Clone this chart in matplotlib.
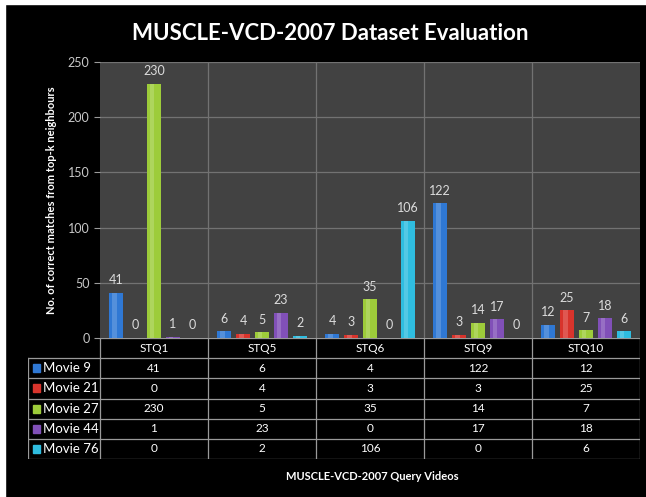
import matplotlib.pyplot as plt
from matplotlib.patches import Rectangle

queries = ['STQ1', 'STQ5', 'STQ6', 'STQ9', 'STQ10']
movies = ['Movie 9', 'Movie 21', 'Movie 27', 'Movie 44', 'Movie 76']
movie9 = [41, 6, 4, 122, 12]
movie21 = [0, 4, 3, 3, 25]
movie27 = [230, 5, 35, 14, 7]
movie44 = [1, 23, 0, 17, 18]
movie76 = [0, 2, 106, 0, 6]
series = [movie9, movie21, movie27, movie44, movie76]
colors = ['#2f78d4', '#d8342c', '#9dcc3a', '#8150b8', '#2fbde0']

plt.rcParams['font.family'] = ['Lato', 'DejaVu Sans']

fig = plt.figure(figsize=(6.46, 4.97), dpi=100, facecolor='black')
W, H = 646, 497

# 图片边缘的白边
fig.add_artist(Rectangle((0, 1 - 4 / H), 1, 4 / H, transform=fig.transFigure, color='white'))
fig.add_artist(Rectangle((0, 0), 5 / W, 1, transform=fig.transFigure, color='white'))

# 主图
ax = fig.add_axes([100 / W, (H - 338) / H, 540 / W, 276 / H])
ax.set_facecolor('#424242')
ax.set_xlim(-0.5, 4.5)
ax.set_ylim(0, 250)
ax.set_yticks([0, 50, 100, 150, 200, 250])
ax.set_xticks([])
for y in [50, 100, 150, 200, 250]:
    ax.axhline(y, color='#727272', lw=0.9, zorder=0)
for x in [0.5, 1.5, 2.5, 3.5]:
    ax.axvline(x, color='#727272', lw=0.9, zorder=0)
for s in ax.spines.values():
    s.set_visible(False)
ax.tick_params(axis='y', colors='#9a9a9a', labelcolor='#c8c8c8', labelsize=9, length=4)

step = 0.175
bw = 0.13
for j, vals in enumerate(series):
    xs = [i + (j - 2) * step for i in range(len(queries))]
    ax.bar(xs, vals, width=bw, color=colors[j], zorder=2)
    # 高光
    ax.bar([x - bw * 0.12 for x in xs], vals, width=bw * 0.3, color='white', alpha=0.18, zorder=3)
    for x, v in zip(xs, vals):
        ax.text(x, v + 6, str(v), ha='center', va='bottom', color='#dcdcdc', fontsize=9)

ax.set_ylabel('No. of correct matches from top-k neighbours', color='white',
              fontsize=8, fontweight='bold', labelpad=8)

# 数据表
tx = fig.add_axes([28 / W, (H - 459) / H, 612 / W, 121 / H])
tx.set_facecolor('black')
left = -0.5 - 72 / 108
tx.set_xlim(left, 4.5)
tx.set_ylim(6, 0)
tx.axis('off')
lc = '#9a9a9a'
# 横线
tx.plot([-0.5, 4.5], [0, 0], color=lc, lw=0.9)
for r in range(1, 7):
    tx.plot([left, 4.5], [r, r], color=lc, lw=0.9)
# 竖线
tx.plot([left, left], [1, 6], color=lc, lw=0.9)
for x in [-0.5, 0.5, 1.5, 2.5, 3.5, 4.5]:
    tx.plot([x, x], [0, 6], color=lc, lw=0.9)
for i, q in enumerate(queries):
    tx.text(i, 0.5, q, ha='center', va='center', color='white', fontsize=8.5)
for j, name in enumerate(movies):
    tx.add_patch(Rectangle((left + 0.05, j + 1.3), 0.065, 0.4, color=colors[j]))
    tx.text(left + 0.14, j + 1.5, name, ha='left', va='center', color='white', fontsize=9.5)
    for i, v in enumerate(series[j]):
        tx.text(i, j + 1.5, str(v), ha='center', va='center', color='white', fontsize=8.5)

fig.text(330 / W, 1 - 33 / H, 'MUSCLE-VCD-2007 Dataset Evaluation', ha='center', va='center',
         color='white', fontsize=16, fontweight='bold')
fig.text(372 / W, 1 - 477 / H, 'MUSCLE-VCD-2007 Query Videos', ha='center', va='center',
         color='white', fontsize=8, fontweight='bold')

fig.savefig('out.png', dpi=100, facecolor='black')
